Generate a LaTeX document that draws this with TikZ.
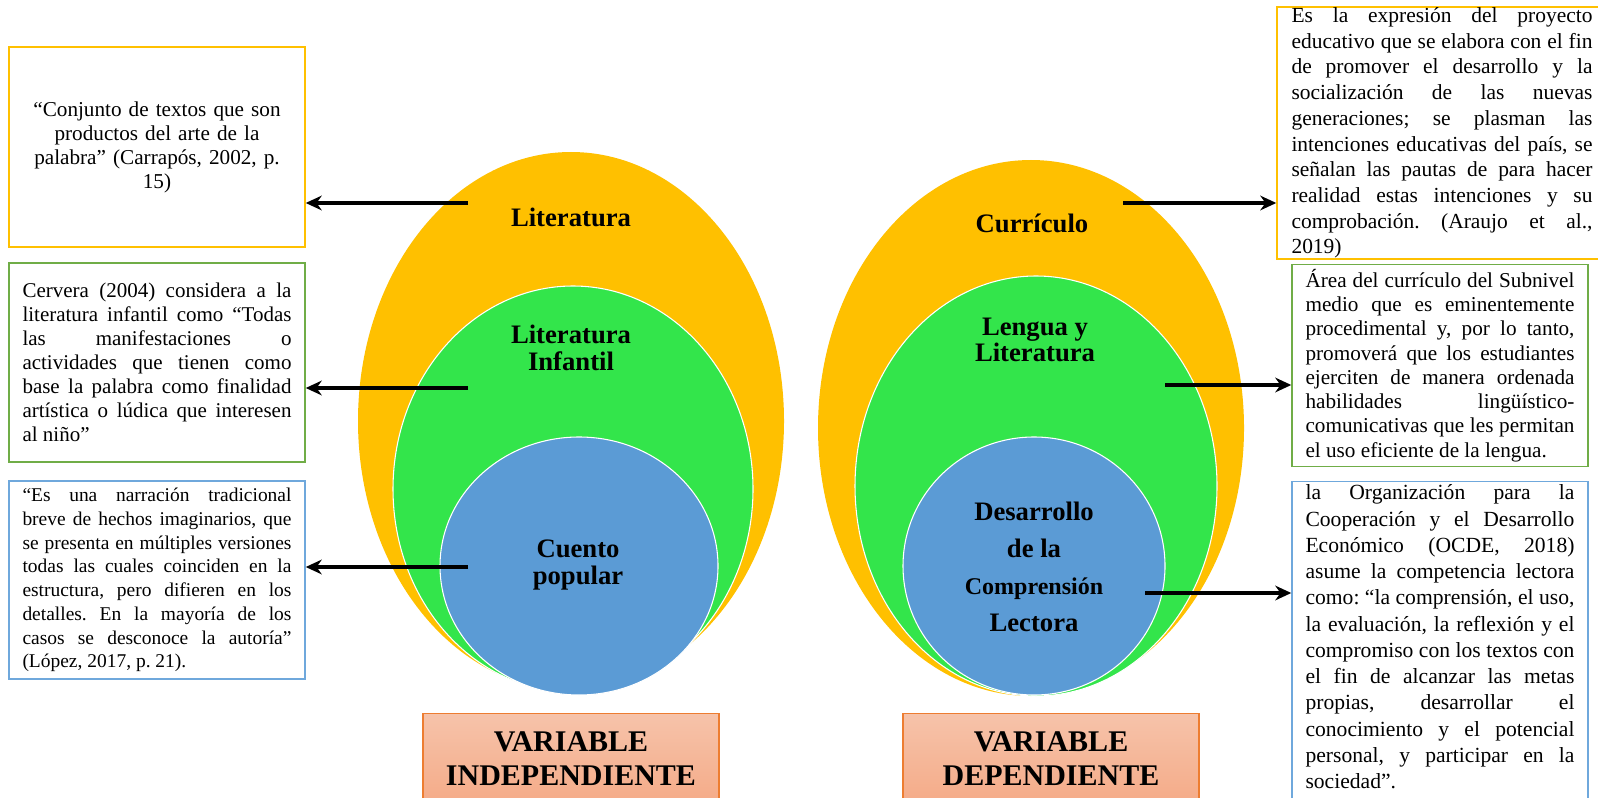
\documentclass[tikz,border=0pt]{standalone}
\usepackage{fontspec}
\setmainfont{Liberation Serif}
\usetikzlibrary{arrows.meta}
\definecolor{oro}{HTML}{FFC000}
\definecolor{verde}{HTML}{33E54B}
\definecolor{azul}{HTML}{5B9BD5}
\definecolor{verdeborde}{HTML}{70AD47}
\definecolor{azulborde}{HTML}{6FA8DC}
\definecolor{naranja}{HTML}{ED7D31}
\definecolor{salmonA}{HTML}{F6C3AA}
\definecolor{salmonB}{HTML}{F4A47E}
\tolerance=9999
\hyphenpenalty=10000
\frenchspacing
\begin{document}
\begin{tikzpicture}[x=0.75pt,y=-0.75pt,
    cita/.style={draw,line width=1.1pt,minimum width=222pt,text width=201.75pt,inner xsep=0pt,align=justify,font=\fontsize{15.75}{18}\selectfont},
    etiqueta/.style={font=\bfseries\fontsize{20}{20.25}\selectfont,align=center,inner sep=0pt},
    varcaja/.style={draw=naranja,line width=1pt,top color=salmonA,bottom color=salmonB,minimum width=222pt,anchor=north,align=center,inner ysep=13.5pt,text depth=20pt,font=\bfseries\fontsize{22.5}{25.5}\selectfont},
    flecha/.style={line width=3pt,-{Stealth[length=12pt,width=11pt]}}]
  \useasboundingbox (0,0) rectangle (1598,798);
  \fill[oro] (571,421) ellipse [x radius=213,y radius=269];
  \filldraw[fill=verde,draw=white,line width=0.8pt] (573,489) ellipse [x radius=180,y radius=203];
  \filldraw[fill=azul,draw=white,line width=0.8pt] (579,566) ellipse [x radius=139,y radius=129];
  \fill[oro] (1031,428) ellipse [x radius=213,y radius=268];
  \filldraw[fill=verde,draw=white,line width=0.8pt] (1036,486) ellipse [x radius=181,y radius=210];
  \filldraw[fill=azul,draw=white,line width=0.8pt] (1034,566) ellipse [x radius=131,y radius=129];
  \node[etiqueta] (lit) at (571,217) {Literatura};
  \node[etiqueta] (inf) at (571,348) {Literatura\\Infantil};
  \node[etiqueta] (cue) at (578,565) {Cuento\\popular};
  \node[etiqueta] (cur) at (1032,223) {Currículo};
  \node[etiqueta,font=\bfseries\fontsize{20}{19.5}\selectfont] (len) at (1035,340) {Lengua y\\Literatura};
  \node[etiqueta,font=\bfseries\fontsize{20}{27.75}\selectfont] (des) at (1034,567) {Desarrollo\\de la\\{\fontsize{18}{27.75}\selectfont Comprensión}\\Lectora};
  \node[cita,draw=oro,align=center,minimum height=150pt,font=\fontsize{15.9}{18}\selectfont] (cLit) at (157,147)
    {“Conjunto de textos que son\\productos del arte de la\\palabra” (Carrapós, 2002, p.\\15)};
  \node[cita,draw=verdeborde,minimum height=149.25pt] (cInf) at (157,362.5)
    {Cervera (2004) considera a la\linebreak literatura infantil como “Todas\linebreak las manifestaciones o\linebreak actividades que tienen como\linebreak base la palabra como finalidad\linebreak artística o lúdica que interesen\linebreak al niño”};
  \node[cita,draw=azulborde,minimum height=148.5pt,font=\fontsize{14.6}{17.8}\selectfont] (cCue) at (157,580)
    {“Es una narración tradicional\linebreak breve de hechos imaginarios, que\linebreak se presenta en múltiples versiones\linebreak todas las cuales coinciden en la\linebreak estructura, pero difieren en los\linebreak detalles. En la mayoría de los\linebreak casos se desconoce la autoría”\linebreak (López, 2017, p. 21).};
  \node[cita,draw=oro,minimum width=247.5pt,minimum height=189pt,text width=225.75pt,inner ysep=0pt,font=\fontsize{16.1}{19.3}\selectfont] (dCur) at (1442,133)
    {Es la expresión del proyecto\linebreak educativo que se elabora con el fin\linebreak de promover el desarrollo y la\linebreak socialización de las nuevas\linebreak generaciones; se plasman las\linebreak intenciones educativas del país, se\linebreak señalan las pautas de para hacer\linebreak realidad estas intenciones y su\linebreak comprobación. (Araujo et al.,\linebreak 2019)};
  \node[cita,draw=verdeborde,minimum height=149.25pt,font=\fontsize{15.9}{18.2}\selectfont] (dLen) at (1440,365.5)
    {Área del currículo del Subnivel\linebreak medio que es eminentemente\linebreak procedimental y, por lo tanto,\linebreak promoverá que los estudiantes\linebreak ejerciten de manera ordenada\linebreak habilidades lingüístico-\linebreak comunicativas que les permitan\linebreak el uso eficiente de la lengua.};
  \node[cita,draw=azulborde,anchor=north,inner ysep=2.25pt,text depth=240pt,font=\fontsize{16.2}{19.7}\selectfont] (dDes) at (1440,481)
    {la Organización para la\linebreak Cooperación y el Desarrollo\linebreak Económico (OCDE, 2018)\linebreak asume la competencia lectora\linebreak como: “la comprensión, el uso,\linebreak la evaluación, la reflexión y el\linebreak compromiso con los textos con\linebreak el fin de alcanzar las metas\linebreak propias, desarrollar el\linebreak conocimiento y el potencial\linebreak personal, y participar en la\linebreak sociedad”.};
  \node[varcaja] (vInd) at (571,713) {VARIABLE\\INDEPENDIENTE};
  \node[varcaja] (vDep) at (1051,713) {VARIABLE\\DEPENDIENTE};
  \coordinate (pLit) at (468,203);
  \coordinate (pInf) at (468,388);
  \coordinate (pCue) at (468,567);
  \coordinate (pCur) at (1123,203);
  \coordinate (pLen) at (1165,385);
  \coordinate (pDes) at (1145,593);
  \begin{scope}[flecha]
    \draw (pLit) -- (pLit -| cLit.east);
    \draw (pInf) -- (pInf -| cInf.east);
    \draw (pCue) -- (pCue -| cCue.east);
    \draw (pCur) -- (pCur -| dCur.west);
    \draw (pLen) -- (pLen -| dLen.west);
    \draw (pDes) -- (pDes -| dDes.west);
  \end{scope}
\end{tikzpicture}
\end{document}
